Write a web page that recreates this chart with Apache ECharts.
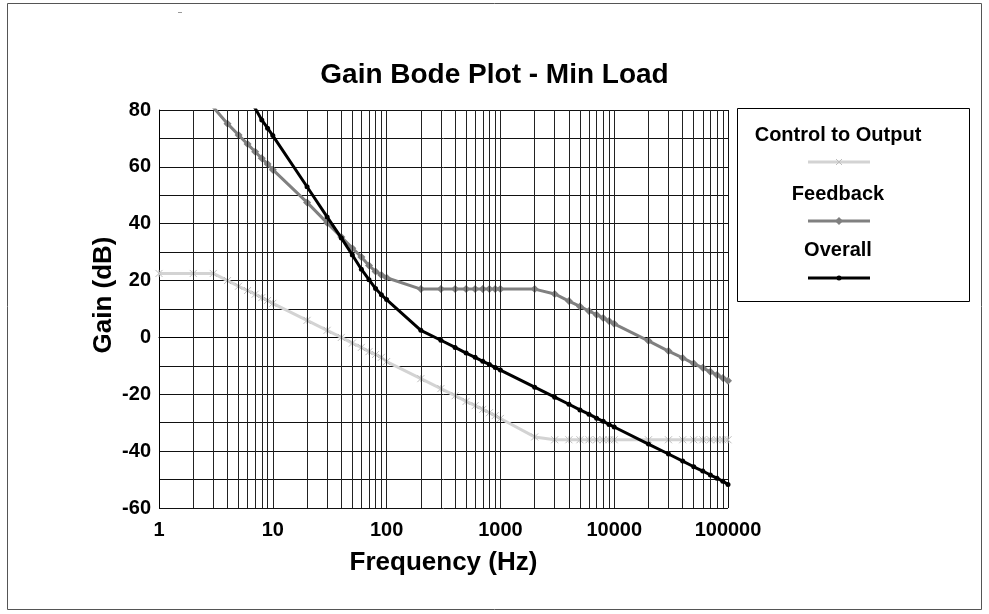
<!DOCTYPE html>
<html>
<head>
<meta charset="utf-8">
<script src="https://cdn.jsdelivr.net/npm/echarts@6/dist/echarts.min.js"></script>
<style>
  html, body { margin: 0; padding: 0; background: #fff; }
  #chart { width: 989px; height: 614px; }
</style>
</head>
<body>
<div id="chart"></div>
<script>
// frequencies (Hz), 1-2-3...9 per decade
const freqs = [
  1, 2, 3, 4, 5, 6, 7, 8, 9,
  10, 20, 30, 40, 50, 60, 70, 80, 90,
  100, 200, 300, 400, 500, 600, 700, 800, 900,
  1000, 2000, 3000, 4000, 5000, 6000, 7000, 8000, 9000,
  10000, 20000, 30000, 40000, 50000, 60000, 70000, 80000, 90000,
  100000
]
const controlToOutput = [
  22.5, 22.5, 22.5, 20, 18, 16.5, 15.2, 14, 13,
  12, 6, 2.5, 0, -2, -3.5, -5, -6, -7,
  -8.5, -14.5, -18, -20.5, -22.5, -24, -25.3, -26.5, -27.5,
  -28.5, -35, -36, -36, -36, -36, -36, -36, -36,
  -36, -36, -36, -36, -36, -36, -36, -36, -36,
  -36
]
// first points run off the top of the plot and are clipped
const feedback = [
  118, 99, 81, 75.2, 71.2, 68, 65.3, 63, 61,
  59, 47.5, 40.3, 35.3, 31.4, 28.3, 25.3, 23.2, 22,
  21, 17, 17, 17, 17, 17, 17, 17, 17,
  17, 17, 15.3, 12.8, 10.9, 9.3, 8, 6.8, 5.8,
  4.8, -1.2, -4.8, -7.2, -9.2, -10.7, -12.1, -13.2, -14.3,
  -15.2
]
const overall = [
  null, null, null, null, 89, 84.5, 80.6, 76.5, 73.6,
  71, 53, 42.4, 35, 29, 24, 20.3, 17.2, 15,
  13.3, 2.5, -1, -3.5, -5.5, -7, -8.4, -9.5, -10.6,
  -11.5, -17.5, -21, -23.5, -25.5, -27, -28.4, -29.5, -30.6,
  -31.5, -37.5, -41, -43.5, -45.5, -47, -48.4, -49.5, -50.6,
  -51.7
]
const seriesNames = ['Control to Output', 'Feedback', 'Overall']

const font = 'Liberation Sans, Arial, sans-serif'
const chart = echarts.init(document.getElementById('chart'))

function pairs (vals) {
  return freqs.map(function (f, i) {
    return [f, vals[i]]
  })
}
// vertical grid lines at every 1..9 x decade
const vLines = freqs.filter(function (f) { return f > 1 && f < 100000 }).map(function (f) {
  return { xAxis: f }
})

const crossPath = 'path://M0,0L10,10M10,0L0,10M5,0L5,10'

function legendText (txt, y) {
  return {
    type: 'text', x: 838, y: y, silent: true,
    style: { text: txt, fontFamily: font, fontWeight: 'bold', fontSize: 20, fill: '#000', align: 'center', verticalAlign: 'middle' }
  }
}

const option = {
  animation: false,
  backgroundColor: '#ffffff',
  title: {
    text: 'Gain Bode Plot - Min Load',
    left: 'center',
    top: 56,
    textStyle: { fontFamily: font, fontWeight: 'bold', fontSize: 28, color: '#000' }
  },
  grid: { left: 159, top: 110, width: 569, height: 398 },
  xAxis: {
    type: 'log',
    logBase: 10,
    min: 1,
    max: 100000,
    name: 'Frequency (Hz)',
    nameLocation: 'middle',
    nameGap: 42,
    nameTextStyle: { fontFamily: font, fontWeight: 'bold', fontSize: 26, color: '#000' },
    axisLine: { lineStyle: { color: '#000', width: 1 } },
    axisTick: { inside: true, length: 8, lineStyle: { color: '#000' } },
    axisLabel: {
      fontFamily: font, fontWeight: 'bold', fontSize: 20, color: '#000', margin: 12,
      formatter: function (v) { return String(Math.round(v)) }
    },
    splitLine: { show: true, lineStyle: { color: '#111', width: 1 } }
  },
  yAxis: {
    type: 'value',
    min: -60,
    max: 80,
    interval: 10,
    axisLine: { show: true, lineStyle: { color: '#000', width: 1 } },
    axisTick: { show: false },
    axisLabel: {
      fontFamily: font, fontWeight: 'bold', fontSize: 20, color: '#000', margin: 8,
      formatter: function (v) { return v % 20 === 0 ? String(v) : '' }
    },
    splitLine: { show: true, lineStyle: { color: '#111', width: 1 } }
  },
  series: [
    {
      name: seriesNames[0],
      type: 'line',
      data: pairs(controlToOutput),
      clip: true,
      symbol: crossPath,
      symbolSize: 7,
      itemStyle: { color: '#d3d3d3', borderColor: '#bdbdbd', borderWidth: 1 },
      lineStyle: { color: '#d3d3d3', width: 3 },
      z: 3
    },
    {
      name: seriesNames[1],
      type: 'line',
      data: pairs(feedback),
      clip: true,
      symbol: 'diamond',
      symbolSize: 8,
      itemStyle: { color: '#808080' },
      lineStyle: { color: '#808080', width: 3 },
      z: 4
    },
    {
      name: seriesNames[2],
      type: 'line',
      data: pairs(overall),
      clip: true,
      symbol: 'circle',
      symbolSize: 5,
      itemStyle: { color: '#000' },
      lineStyle: { color: '#000', width: 3 },
      z: 5
    },
    {
      // minor vertical grid
      type: 'line',
      data: [],
      silent: true,
      z: 1,
      markLine: {
        silent: true,
        symbol: 'none',
        label: { show: false },
        lineStyle: { color: '#222', width: 1, type: 'solid' },
        data: vLines
      }
    }
  ],
  graphic: [
    // outer frame
    { type: 'rect', shape: { x: 7.5, y: 3.5, width: 974, height: 606 }, style: { fill: null, stroke: '#555', lineWidth: 1 }, silent: true },
    { type: 'rect', shape: { x: 178, y: 12, width: 4, height: 1 }, style: { fill: '#999' }, silent: true },
    // y axis title
    {
      type: 'text', x: 104, y: 295, rotation: Math.PI / 2, silent: true,
      style: { text: 'Gain (dB)', fontFamily: font, fontWeight: 'bold', fontSize: 26, fill: '#000', align: 'center', verticalAlign: 'middle' }
    },
    // legend box
    { type: 'rect', shape: { x: 737.5, y: 108.5, width: 232, height: 193 }, style: { fill: '#fff', stroke: '#000', lineWidth: 1 }, silent: true },
    legendText(seriesNames[0], 135),
    { type: 'line', shape: { x1: 808, y1: 162, x2: 870, y2: 162 }, style: { stroke: '#d3d3d3', lineWidth: 3 } },
    { type: 'line', shape: { x1: 836, y1: 159, x2: 842, y2: 165 }, style: { stroke: '#bdbdbd', lineWidth: 1 } },
    { type: 'line', shape: { x1: 842, y1: 159, x2: 836, y2: 165 }, style: { stroke: '#bdbdbd', lineWidth: 1 } },
    legendText(seriesNames[1], 194),
    { type: 'line', shape: { x1: 808, y1: 221, x2: 870, y2: 221 }, style: { stroke: '#808080', lineWidth: 3 } },
    { type: 'polygon', shape: { points: [[839, 217], [843, 221], [839, 225], [835, 221]] }, style: { fill: '#808080' } },
    legendText(seriesNames[2], 250),
    { type: 'line', shape: { x1: 808, y1: 278, x2: 870, y2: 278 }, style: { stroke: '#000', lineWidth: 3 } },
    { type: 'circle', shape: { cx: 839, cy: 278, r: 2.5 }, style: { fill: '#000' } }
  ]
}

chart.setOption(option)
</script>
</body>
</html>
